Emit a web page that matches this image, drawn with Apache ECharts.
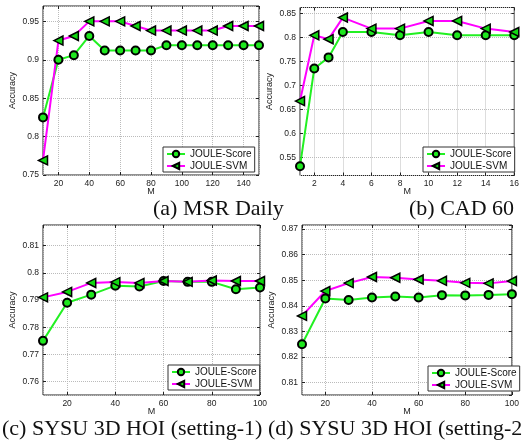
<!DOCTYPE html>
<html>
<head>
<meta charset="utf-8">
<script src="https://cdn.jsdelivr.net/npm/echarts@6/dist/echarts.min.js"></script>
<style>
  html, body { margin: 0; padding: 0; background: #fff; }
  #chart { width: 522px; height: 441px; }
</style>
</head>
<body>
<div id="chart"></div>
<script>
// (a) MSR Daily
const msrM = [10, 20, 30, 40, 50, 60, 70, 80, 90, 100, 110, 120, 130, 140, 150]
const msrScore = [0.825, 0.900, 0.906, 0.931, 0.912, 0.912, 0.912, 0.912, 0.919, 0.919, 0.919, 0.919, 0.919, 0.919, 0.919]
const msrSvm = [0.769, 0.925, 0.931, 0.950, 0.950, 0.950, 0.944, 0.938, 0.938, 0.938, 0.938, 0.938, 0.944, 0.944, 0.944]
// (b) CAD 60
const cadM = [1, 2, 3, 4, 6, 8, 10, 12, 14, 16]
const cadScore = [0.531, 0.735, 0.758, 0.811, 0.811, 0.804, 0.811, 0.804, 0.804, 0.804]
const cadSvm = [0.667, 0.804, 0.796, 0.841, 0.818, 0.818, 0.834, 0.834, 0.818, 0.811]
// (c) / (d) SYSU 3D HOI
const sysuM = [10, 20, 30, 40, 50, 60, 70, 80, 90, 100]
const sysu1Score = [0.775, 0.789, 0.792, 0.7953, 0.795, 0.797, 0.7967, 0.7967, 0.794, 0.7946]
const sysu1Svm = [0.791, 0.793, 0.7963, 0.7966, 0.7963, 0.797, 0.7967, 0.7972, 0.797, 0.797]
const sysu2Score = [0.825, 0.8429, 0.8423, 0.8433, 0.8437, 0.8433, 0.8442, 0.8441, 0.8443, 0.8446]
const sysu2Svm = [0.8361, 0.8458, 0.8489, 0.8513, 0.851, 0.8503, 0.8498, 0.849, 0.8488, 0.8497]

const seriesNames = ['JOULE-Score', 'JOULE-SVM']
const captions = ['(a) MSR Daily', '(b) CAD 60', '(c) SYSU 3D HOI (setting-1)', '(d) SYSU 3D HOI (setting-2)']

const panels = [
  { m: msrM, score: msrScore, svm: msrSvm, grid: { left: 43, top: 6, width: 216, height: 169 },
    x: [10, 150], xSplit: 7, y: [0.75, 0.97], ySplit: 5, showMaxX: false, showMinY: true, legend: [163, 147] },
  { m: cadM, score: cadScore, svm: cadSvm, grid: { left: 300, top: 7.5, width: 219, height: 168 },
    x: [1, 16], xSplit: 8, y: [0.5118, 0.862], ySplit: 7, showMaxX: true, showMinY: false, legend: [423, 147] },
  { m: sysuM, score: sysu1Score, svm: sysu1Svm, grid: { left: 43, top: 225, width: 217, height: 170 },
    x: [10, 100], xSplit: 5, y: [0.7551, 0.8176], ySplit: 6, showMaxX: true, showMinY: false, legend: [168, 365] },
  { m: sysuM, score: sysu2Score, svm: sysu2Svm, grid: { left: 302, top: 225, width: 216, height: 170 },
    x: [10, 100], xSplit: 5, y: [0.8052, 0.8716], ySplit: 6, showMaxX: true, showMinY: false, legend: [428, 366] }
]

const sans = 'Liberation Sans'
const triLeft = 'path://M0,5L10,0L10,10Z'
const tick = { inside: true, length: 3, lineStyle: { color: '#222' } }

const zip = (xs, ys) => xs.map((x, i) => [x, ys[i]])

// bottom / left axes carry labels, top / right ones only repeat the ticks (matlab box)
const xAxes = panels.map((p, i) => ({
  type: 'value',
  gridIndex: i,
  min: p.x[0],
  max: p.x[1],
  splitNumber: p.xSplit,
  name: 'M',
  nameLocation: 'middle',
  nameGap: 12,
  nameMoveOverlap: false,
  nameTextStyle: { fontFamily: sans, fontSize: 9, color: '#222' },
  axisLine: { show: false },
  axisTick: tick,
  axisLabel: { fontFamily: sans, fontSize: 8.5, color: '#222', margin: 4, hideOverlap: false, showMinLabel: false, showMaxLabel: p.showMaxX },
  splitLine: { show: true, lineStyle: { type: 'dotted', color: '#bbb' } }
}))
const yAxes = panels.map((p, i) => ({
  type: 'value',
  gridIndex: i,
  min: p.y[0],
  max: p.y[1],
  splitNumber: p.ySplit,
  name: 'Accuracy',
  nameLocation: 'middle',
  nameGap: 26,
  nameMoveOverlap: false,
  nameTextStyle: { fontFamily: sans, fontSize: 9, color: '#222' },
  axisLine: { show: false },
  axisTick: tick,
  axisLabel: { fontFamily: sans, fontSize: 8.5, color: '#222', margin: 4, hideOverlap: false, showMinLabel: p.showMinY, showMaxLabel: false },
  splitLine: { show: true, lineStyle: { type: 'dotted', color: '#bbb' } }
}))
panels.forEach((p, i) => {
  xAxes.push({ type: 'value', gridIndex: i, position: 'top', min: p.x[0], max: p.x[1], splitNumber: p.xSplit,
    axisLine: { show: false }, axisTick: tick, axisLabel: { show: false }, splitLine: { show: false } })
  yAxes.push({ type: 'value', gridIndex: i, position: 'right', min: p.y[0], max: p.y[1], splitNumber: p.ySplit,
    axisLine: { show: false }, axisTick: tick, axisLabel: { show: false }, splitLine: { show: false } })
})

const captionText = (text, pos) => Object.assign({
  type: 'text',
  style: { text, font: '22px "Liberation Serif"', fill: '#111', textAlign: pos.align || 'left' }
}, { left: pos.left, top: pos.top })

const option = {
  backgroundColor: '#fff',
  animation: false,
  grid: panels.map(p => Object.assign({ show: true, borderColor: '#222', borderWidth: 1, backgroundColor: '#fff' }, p.grid)),
  xAxis: xAxes,
  yAxis: yAxes,
  legend: panels.map(p => ({
    data: seriesNames,
    orient: 'vertical',
    left: p.legend[0],
    top: p.legend[1],
    backgroundColor: '#fff',
    borderColor: '#333',
    borderWidth: 1,
    borderRadius: 0,
    padding: [2, 3, 1, 3],
    itemWidth: 18,
    itemHeight: 8,
    itemGap: 2,
    selectedMode: false,
    textStyle: { fontFamily: sans, fontSize: 10, color: '#111' }
  })),
  series: panels.flatMap((p, i) => [
    {
      name: seriesNames[0],
      type: 'line',
      xAxisIndex: i,
      yAxisIndex: i,
      data: zip(p.m, p.score),
      symbol: 'circle',
      symbolSize: 8,
      lineStyle: { color: '#22f022', width: 2 },
      itemStyle: { color: '#1ee81e', borderColor: '#000', borderWidth: 2 }
    },
    {
      name: seriesNames[1],
      type: 'line',
      xAxisIndex: i,
      yAxisIndex: i,
      data: zip(p.m, p.svm),
      symbol: triLeft,
      symbolSize: 9,
      lineStyle: { color: '#ff00ff', width: 2 },
      itemStyle: { color: '#10d810', borderColor: '#000', borderWidth: 1.5 }
    }
  ]),
  graphic: [
    captionText(captions[0], { left: 153, top: 198, align: 'center' }),
    captionText(captions[1], { left: 409, top: 198, align: 'center' }),
    captionText(captions[2], { left: 2, top: 418 }),
    captionText(captions[3], { left: 268, top: 418 })
  ]
}

const chart = echarts.init(document.getElementById('chart'))
chart.setOption(option)
</script>
</body>
</html>
